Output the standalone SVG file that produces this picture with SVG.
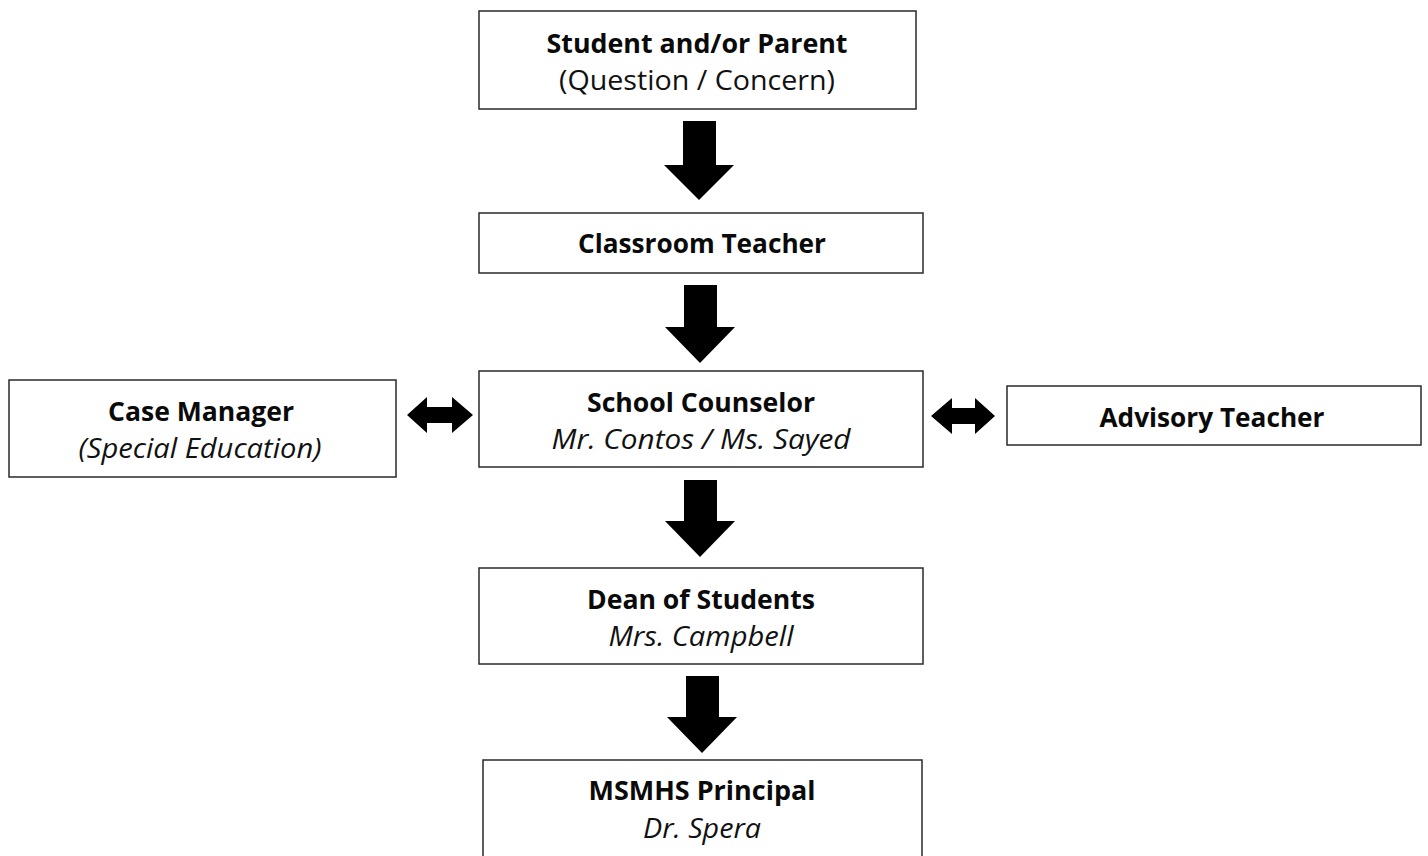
<svg xmlns="http://www.w3.org/2000/svg" width="1428" height="856" viewBox="0 0 1428 856">
<style>
.box{fill:#fff;stroke:#2a2a2a;stroke-width:1.5}
.t{font-family:"Open Sans","Liberation Sans",sans-serif;font-size:27px;fill:#111;text-anchor:middle}
.b{font-weight:bold;fill:#0a0a0a}
.i{font-style:italic;font-size:28px}
.arr{fill:#000}
</style>
<rect width="1428" height="856" fill="#fff"/>
<g id="student">
<rect class="box" x="479" y="11" width="437" height="98"/>
<text class="t b" x="697" y="53" textLength="301" lengthAdjust="spacingAndGlyphs">Student and/or Parent</text>
<text class="t" x="697" y="90" textLength="276" lengthAdjust="spacingAndGlyphs">(Question / Concern)</text>
</g>
<g id="classroom">
<rect class="box" x="479" y="213" width="444" height="60"/>
<text class="t b" x="702" y="253" textLength="248" lengthAdjust="spacingAndGlyphs">Classroom Teacher</text>
</g>
<g id="counselor">
<rect class="box" x="479" y="371" width="444" height="96"/>
<text class="t b" x="701" y="412" textLength="228" lengthAdjust="spacingAndGlyphs">School Counselor</text>
<text class="t i" x="701" y="449" textLength="299" lengthAdjust="spacingAndGlyphs">Mr. Contos / Ms. Sayed</text>
</g>
<g id="casemanager">
<rect class="box" x="9" y="380" width="387" height="97"/>
<text class="t b" x="201" y="421" textLength="186" lengthAdjust="spacingAndGlyphs">Case Manager</text>
<text class="t i" x="200" y="458" textLength="243" lengthAdjust="spacingAndGlyphs">(Special Education)</text>
</g>
<g id="advisory">
<rect class="box" x="1007" y="386" width="414" height="59"/>
<text class="t b" x="1212" y="427" textLength="225" lengthAdjust="spacingAndGlyphs">Advisory Teacher</text>
</g>
<g id="dean">
<rect class="box" x="479" y="568" width="444" height="96"/>
<text class="t b" x="701" y="609" textLength="228" lengthAdjust="spacingAndGlyphs">Dean of Students</text>
<text class="t i" x="701" y="646" textLength="185" lengthAdjust="spacingAndGlyphs">Mrs. Campbell</text>
</g>
<g id="principal">
<rect class="box" x="483" y="760" width="439" height="110"/>
<text class="t b" x="702" y="800" textLength="227" lengthAdjust="spacingAndGlyphs">MSMHS Principal</text>
<text class="t i" x="702" y="838" textLength="118" lengthAdjust="spacingAndGlyphs">Dr. Spera</text>
</g>
<g id="connectors">
<polygon class="arr" points="683,121 716,121 716,165 734,165 699,200 664,165 683,165"/>
<polygon class="arr" points="684,285 717,285 717,327 735,327 700,363 665,327 684,327"/>
<polygon class="arr" points="684,480 717,480 717,521 735,521 700,557 665,521 684,521"/>
<polygon class="arr" points="686,676 719,676 719,717 737,717 702,753 667,717 686,717"/>
<polygon class="arr" points="407,415 427,397 427,407 452,407 452,397 473,415 452,433 452,423 427,423 427,433"/>
<polygon class="arr" points="931,416 952,398 952,408 975,408 975,398 995,416 975,434 975,424 952,424 952,434"/>
</g>
</svg>
